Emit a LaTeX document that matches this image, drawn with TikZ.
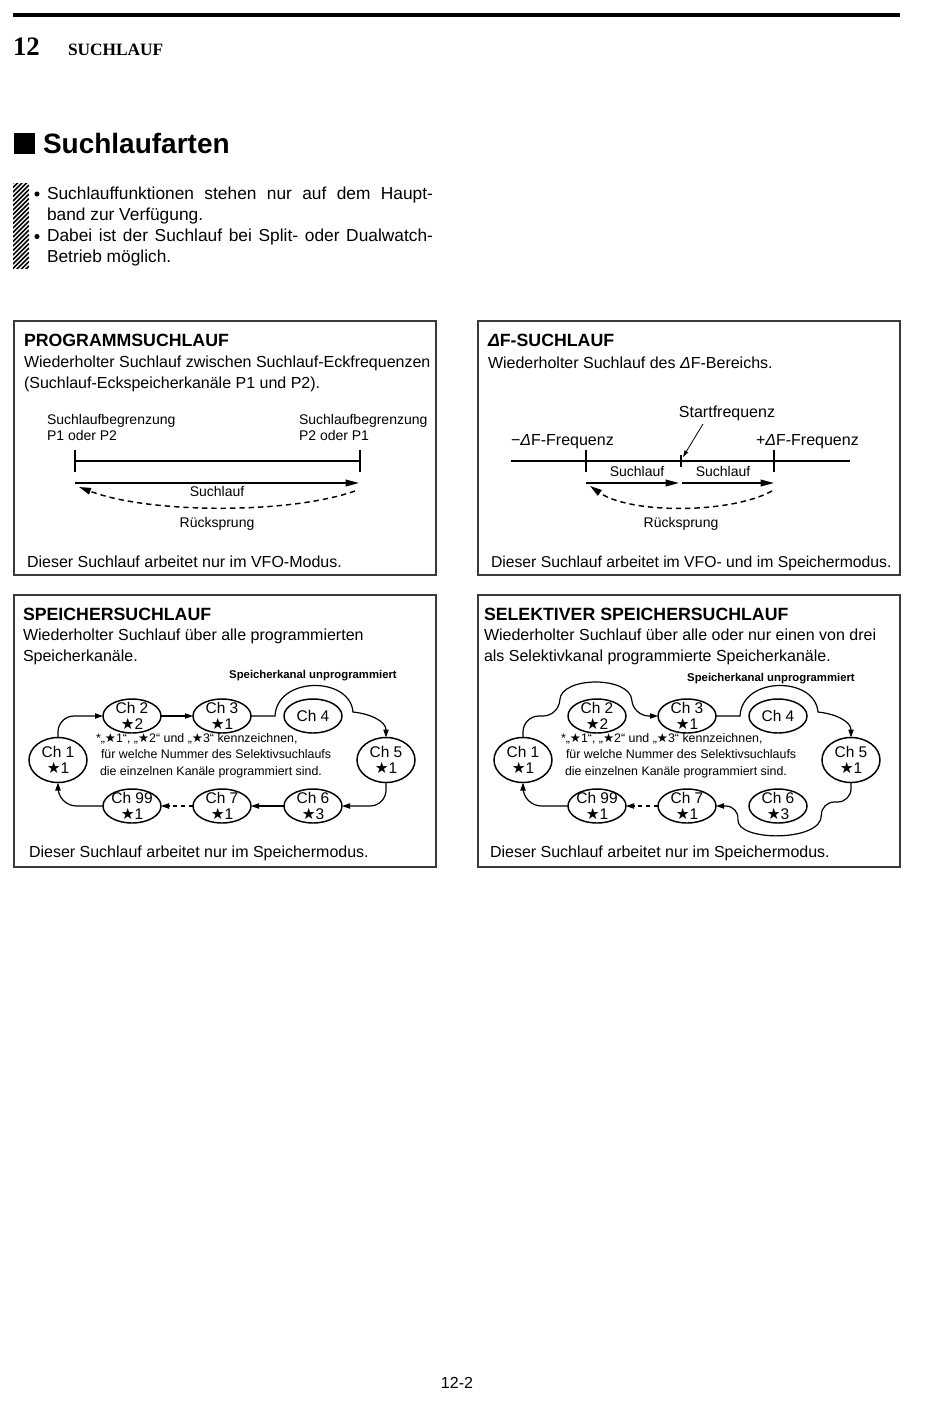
\documentclass[tikz,border=0pt]{standalone}
\usepackage{fontspec}
\setmainfont{Liberation Sans}
\newfontfamily\kopffont{Liberation Serif}
\newfontfamily\symfont{DejaVu Sans}
\usetikzlibrary{arrows.meta,shapes.geometric}
\definecolor{frame}{HTML}{3A3A3A}
\newcommand{\stern}{{\symfont ★}}
\newcommand{\dF}{{\itshape Δ}F}

\begin{document}
\begin{tikzpicture}[x=0.75pt,y=-0.75pt,
    every node/.style={inner sep=0pt,outer sep=0pt},
    rahmen/.style={draw=frame,line width=1.1pt},
    titel/.style={anchor=base west,font=\fontsize{13.3}{15}\selectfont\bfseries},
    txt/.style={anchor=base west,font=\fontsize{12}{15.75}\selectfont},
    lbl/.style={anchor=base,font=\fontsize{10.5}{12}\selectfont},
    lblw/.style={anchor=base west,font=\fontsize{10.5}{12}\selectfont},
    notiz/.style={anchor=base west,font=\fontsize{9.3}{11.25}\selectfont},
    leer/.style={anchor=base,font=\fontsize{8.5}{10}\selectfont\bfseries},
    kanal/.style={draw,ellipse,line width=1.1pt,minimum width=43.5pt,minimum height=25.5pt},
    kanalhoch/.style={kanal,minimum height=33.75pt},
    kanaltext/.style={align=center,font=\fontsize{11.6}{11.4}\selectfont},
    skala/.style={line width=1.5pt},
    laufpfeil/.style={-{Triangle[length=10pt,width=5pt]},line width=1.1pt},
    rueckpfeil/.style={-{Triangle[length=9pt,width=5pt]},line width=1.1pt,dash pattern=on 4pt off 3pt},
    zeiger/.style={-{Triangle[length=5pt,width=3pt]},line width=0.6pt},
    pfeil/.style={-{Triangle[length=6pt,width=4pt]},line width=0.9pt},
  ]
  \useasboundingbox (0,0) rectangle (950,1403);
  \fill[white] (0,0) rectangle (950,1403);

  % Kopf
  \draw[line width=2.5pt] (13,15) -- (900,15);
  \node[anchor=base west,font=\kopffont\fontsize{20}{24}\selectfont\bfseries] (nr) at (13,55) {12};
  \node[anchor=base west,font=\kopffont\fontsize{13}{15}\selectfont\bfseries] (kap) at (68,55) {SUCHLAUF};
  \fill (14,133) rectangle (35,154);
  \node[anchor=base west,font=\fontsize{21}{25}\selectfont\bfseries] (haupt) at (43,153.5) {Suchlaufarten};

  \begin{scope}
    \clip (13,183) rectangle (29,268);
    \foreach \y in {183,187.5,...,292} \draw[line width=1.1pt] (13,\y) -- (29,\y-16);
  \end{scope}
  \fill (37,194) circle (1.9pt);
  \fill (37,236.5) circle (1.9pt);
  \node[anchor=north west,text width=289.5pt,align=justify,font=\fontsize{13}{15.75}\selectfont] (hw1) at (47,187)
    {Suchlauffunktionen stehen nur auf dem Haupt-\linebreak band zur Verfügung.};
  \node[anchor=north west,text width=289.5pt,align=justify,font=\fontsize{13}{15.75}\selectfont] (hw2) at (47,229)
    {Dabei ist der Suchlauf bei Split- oder Dualwatch-\linebreak Betrieb möglich.};

  % Programmsuchlauf
  \draw[rahmen] (14,321) rectangle (436,575);
  \node[titel] (t1) at (24,346.5) {PROGRAMMSUCHLAUF};
  \node[txt] (t1a) at (24,367.5) {Wiederholter Suchlauf zwischen Suchlauf-Eckfrequenzen};
  \node[txt] (t1b) at (24,388.5) {(Suchlauf-Eckspeicherkanäle P1 und P2).};
  \node[lblw] (g1a) at (47,424) {Suchlaufbegrenzung};
  \node[lblw] (g1b) at (47,440) {P1 oder P2};
  \node[lblw] (g2a) at (299,424) {Suchlaufbegrenzung};
  \node[lblw] (g2b) at (299,440) {P2 oder P1};
  \draw[skala] (75,461) -- (360,461);
  \draw[skala] (75,450) -- (75,472);
  \draw[skala] (360,450) -- (360,472);
  \coordinate (pl) at (75,483);
  \coordinate (pr) at (359,483);
  \coordinate (rr) at (355,491);
  \coordinate (rl) at (79,487);
  \draw[laufpfeil] (pl) -- (pr);
  \draw[rueckpfeil] (rr) .. controls (290,514) and (150,514) .. (rl);
  \node[lbl] (l1) at (217,496) {Suchlauf};
  \node[lbl] (r1) at (217,527) {Rücksprung};
  \node[txt] (f1) at (27,567) {Dieser Suchlauf arbeitet nur im VFO-Modus.};

  % Delta-F-Suchlauf
  \draw[rahmen] (478,321) rectangle (900,575);
  \node[titel] (t2) at (488,346.5) {\dF-SUCHLAUF};
  \node[txt] (t2a) at (488,368) {Wiederholter Suchlauf des \dF-Bereichs.};
  \node[anchor=base,font=\fontsize{12}{15}\selectfont] (sf) at (727,417) {Startfrequenz};
  \node[txt] (fm) at (511,445) {−\dF-Frequenz};
  \node[txt] (fp) at (756,445) {+\dF-Frequenz};
  \draw[skala] (511,461) -- (850,461);
  \draw[skala] (586,450) -- (586,472);
  \draw[skala] (681,455) -- (681,467);
  \draw[skala] (774,450) -- (774,472);
  \coordinate (sfa) at (703,424);
  \coordinate (sfp) at (683,457);
  \draw[zeiger] (sfa) -- (sfp);
  \coordinate (da) at (586,483);
  \coordinate (db) at (679,483);
  \coordinate (dc) at (682,483);
  \coordinate (dd) at (774,483);
  \draw[laufpfeil] (da) -- (db);
  \draw[laufpfeil] (dc) -- (dd);
  \coordinate (dr) at (772,491);
  \coordinate (dl) at (590,486);
  \draw[rueckpfeil] (dr) .. controls (730,514) and (630,514) .. (dl);
  \node[lbl] (l2a) at (637,476) {Suchlauf};
  \node[lbl] (l2b) at (723,476) {Suchlauf};
  \node[lbl] (r2) at (681,527) {Rücksprung};
  \node[anchor=base west,font=\fontsize{11.8}{15}\selectfont] (f2) at (491,567) {Dieser Suchlauf arbeitet im VFO- und im Speichermodus.};

  % Speichersuchlauf
  \draw[rahmen] (14,595) rectangle (436,867);
  \node[titel] (t3) at (23,620) {SPEICHERSUCHLAUF};
  \node[txt] (t3a) at (23,640) {Wiederholter Suchlauf über alle programmierten};
  \node[txt] (t3b) at (23,661) {Speicherkanäle.};
  \node[leer] (u3) at (313,678.5) {Speicherkanal unprogrammiert};
  \node[kanalhoch,label={[kanaltext]center:{Ch 1\\\stern1}}] (sp1) at (58,760) {};
  \node[kanal,label={[kanaltext]center:{Ch 2\\\stern2}}] (sp2) at (132,716) {};
  \node[kanal,label={[kanaltext]center:{Ch 3\\\stern1}}] (sp3) at (222,716) {};
  \node[kanal,label={[kanaltext]center:{Ch 4}}] (sp4) at (313,716) {};
  \node[kanalhoch,label={[kanaltext]center:{Ch 5\\\stern1}}] (sp5) at (386,760) {};
  \node[kanal,label={[kanaltext]center:{Ch 6\\\stern3}}] (sp6) at (313,806) {};
  \node[kanal,label={[kanaltext]center:{Ch 7\\\stern1}}] (sp7) at (222,806) {};
  \node[kanal,label={[kanaltext]center:{Ch 99\\\stern1}}] (sp99) at (132,806) {};
  \node[notiz] (n3a) at (96,742) {*„\stern1“, „\stern2“ und „\stern3“ kennzeichnen,};
  \node[notiz] (n3b) at (101,758) {für welche Nummer des Selektivsuchlaufs};
  \node[notiz] (n3c) at (100,775) {die einzelnen Kanäle programmiert sind.};
  \draw[pfeil,rounded corners=12pt] (sp1.north) |- (sp2.west);
  \draw[pfeil] (sp2.east) -- (sp3.west);
  \draw[pfeil] (sp3.east) -- (275,716) .. controls (277,676) and (350,676) .. (353,712)
    .. controls (372,714) and (386,722) .. (sp5.north);
  \draw[pfeil,rounded corners=12pt] (sp5.south) |- (sp6.east);
  \draw[pfeil] (sp6.west) -- (sp7.east);
  \draw[pfeil,dashed] (sp7.west) -- (sp99.east);
  \draw[pfeil,rounded corners=14pt] (sp99.west) -| (sp1.south);
  \node[txt] (f3) at (29,857) {Dieser Suchlauf arbeitet nur im Speichermodus.};

  % Selektiver Speichersuchlauf
  \draw[rahmen] (478,595) rectangle (900,867);
  \node[titel] (t4) at (484,620) {SELEKTIVER SPEICHERSUCHLAUF};
  \node[txt] (t4a) at (484,640) {Wiederholter Suchlauf über alle oder nur einen von drei};
  \node[txt] (t4b) at (484,661) {als Selektivkanal programmierte Speicherkanäle.};
  \node[leer] (u4) at (771,681.5) {Speicherkanal unprogrammiert};
  \node[kanalhoch,label={[kanaltext]center:{Ch 1\\\stern1}}] (se1) at (523,760) {};
  \node[kanal,label={[kanaltext]center:{Ch 2\\\stern2}}] (se2) at (597,716) {};
  \node[kanal,label={[kanaltext]center:{Ch 3\\\stern1}}] (se3) at (687,716) {};
  \node[kanal,label={[kanaltext]center:{Ch 4}}] (se4) at (778,716) {};
  \node[kanalhoch,label={[kanaltext]center:{Ch 5\\\stern1}}] (se5) at (851,760) {};
  \node[kanal,label={[kanaltext]center:{Ch 6\\\stern3}}] (se6) at (778,806) {};
  \node[kanal,label={[kanaltext]center:{Ch 7\\\stern1}}] (se7) at (687,806) {};
  \node[kanal,label={[kanaltext]center:{Ch 99\\\stern1}}] (se99) at (597,806) {};
  \node[notiz] (n4a) at (561,742) {*„\stern1“, „\stern2“ und „\stern3“ kennzeichnen,};
  \node[notiz] (n4b) at (566,758) {für welche Nummer des Selektivsuchlaufs};
  \node[notiz] (n4c) at (565,775) {die einzelnen Kanäle programmiert sind.};
  \draw[pfeil,rounded corners=12pt] (se1.north) |- (559,716) .. controls (561,676) and (630,676) .. (633,716) -- (se3.west);
  \draw[pfeil] (se3.east) -- (740,716) .. controls (742,676) and (815,676) .. (818,712)
    .. controls (837,714) and (851,722) .. (se5.north);
  \draw[pfeil,rounded corners=10pt] (se5.south) |- (821,802) .. controls (822,842) and (736,842) .. (739,806) -- (se7.east);
  \draw[pfeil,dashed] (se7.west) -- (se99.east);
  \draw[pfeil,rounded corners=14pt] (se99.west) -| (se1.south);
  \node[txt] (f4) at (490,857) {Dieser Suchlauf arbeitet nur im Speichermodus.};

  % Fuss
  \node[anchor=base,font=\fontsize{12}{15}\selectfont] (seite) at (457,1388) {12-2};
\end{tikzpicture}
\end{document}
